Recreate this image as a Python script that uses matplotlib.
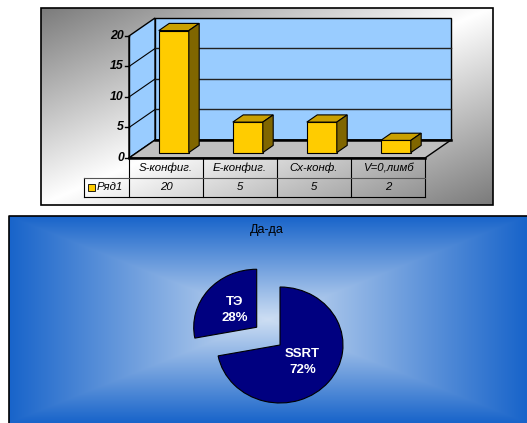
import numpy as np
import matplotlib
matplotlib.use('Agg')
import matplotlib.pyplot as plt
from matplotlib.patches import Polygon, Rectangle

plt.rcParams['font.family'] = ['Liberation Sans', 'DejaVu Sans']

# column chart data
categories = ['S-конфиг.', 'E-конфиг.', 'Cx-конф.', 'V=0,лимб']
series_name = 'Ряд1'
values = [20, 5, 5, 2]
y_ticks = [0, 5, 10, 15, 20]

# pie chart data
pie_labels = ['SSRT', 'ТЭ']
pie_values = [72, 28]
pie_title = 'Да-да'

W, H = 527, 423
fig = plt.figure(figsize=(W / 100, H / 100), dpi=100)


def px_box(x0, y0, x1, y1):
    # pixel box (from top-left) -> figure fraction rect
    return [x0 / W, 1 - y1 / H, (x1 - x0) / W, (y1 - y0) / H]


# ---------- pseudo-3D column chart ----------
ax = fig.add_axes(px_box(41, 8, 493, 205))
sx, sy = 74.0, 6.1          # pixels per category / per unit
x_front, y_zero = 129, 158  # pixel of category edge -0.5 and of value 0
xlim = (-0.5 - (x_front - 41) / sx, -0.5 + (493 - x_front) / sx)
ylim = (-(205 - y_zero) / sy, (y_zero - 8) / sy)

# diagonal grey background
u = np.linspace(0, 1, 452)[None, :]
v = np.linspace(0, 1, 197)[:, None]
g = 1 - 0.52 * np.abs(u + v - 1)
ax.imshow(np.dstack([g, g, g]), extent=(*xlim, *ylim), aspect='auto',
          interpolation='bilinear', zorder=0)
ax.set_xlim(xlim)
ax.set_ylim(ylim)
ax.axis('off')

n = len(categories)
ddx, ddy = 26 / sx, 18 / sy   # depth vector
x0, x1 = -0.5, n - 0.5
top = y_ticks[-1]

ax.add_patch(Polygon([(x0 + ddx, ddy), (x1 + ddx, ddy), (x1 + ddx, top + ddy), (x0 + ddx, top + ddy)],
                     fc='#99ccff', ec='black', lw=1, zorder=1))
ax.add_patch(Polygon([(x0, 0), (x0 + ddx, ddy), (x0 + ddx, top + ddy), (x0, top)],
                     fc='#99ccff', ec='black', lw=1, zorder=1))
ax.add_patch(Polygon([(x0, 0), (x1, 0), (x1 + ddx, ddy), (x0 + ddx, ddy)],
                     fc='#c0c0c0', ec='black', lw=1, zorder=1))

for t in y_ticks[1:-1]:
    ax.plot([x0 + ddx, x1 + ddx], [t + ddy, t + ddy], color='#222222', lw=1, zorder=2)
    ax.plot([x0, x0 + ddx], [t, t + ddy], color='black', lw=0.8, zorder=2)
ax.plot([x0 + ddx, x1 + ddx], [ddy, ddy], color='black', lw=1.8, zorder=2)
ax.plot([x0, x1], [0, 0], color='black', lw=1.8, zorder=4)

# value axis
for t in y_ticks:
    ax.plot([x0 - 4 / sx, x0], [t, t], color='black', lw=1, zorder=4)
    ax.text(x0 - 5 / sx, t, str(t), ha='right', va='center', fontsize=8.8,
            fontweight='bold', fontstyle='italic', zorder=4)
ax.plot([x0, x0], [0, top], color='black', lw=1, zorder=4)

# bars: front faces + top and side faces
bw = 30 / sx
f0, f1 = 0.3, 0.7
bx = np.arange(n) + f0 * ddx
by = f0 * ddy
ax.bar(bx, values, width=bw, bottom=by, color='#ffcc00', edgecolor='black', lw=0.8, zorder=3)
dx, dy = (f1 - f0) * ddx, (f1 - f0) * ddy
for xc, val in zip(bx, values):
    l, r, t = xc - bw / 2, xc + bw / 2, by + val
    ax.add_patch(Polygon([(l, t), (r, t), (r + dx, t + dy), (l + dx, t + dy)],
                         fc='#c9a000', ec='black', lw=0.8, zorder=3))
    ax.add_patch(Polygon([(r, by), (r + dx, by + dy), (r + dx, t + dy), (r, t)],
                         fc='#806600', ec='black', lw=0.8, zorder=3))

# data table under the plot
h1, h2 = 20 / sy, 39 / sy
lab_left = x0 - 45 / sx
tfs = 8.2
for i, (c, val) in enumerate(zip(categories, values)):
    ax.text(i, -h1 / 2, c, ha='center', va='center', fontsize=tfs, fontstyle='italic', zorder=4)
    ax.text(i, -(h1 + h2) / 2, str(val), ha='center', va='center', fontsize=tfs,
            fontstyle='italic', zorder=4)
for i in range(n + 1):
    ax.plot([i - 0.5, i - 0.5], [0, -h2], color='black', lw=0.8, zorder=4)
ax.plot([lab_left, lab_left], [-h1, -h2], color='black', lw=0.8, zorder=4)
ax.plot([lab_left, x1], [-h1, -h1], color='#555555', lw=0.8, zorder=4)
ax.plot([lab_left, x1], [-h2, -h2], color='black', lw=0.8, zorder=4)
ax.add_patch(Rectangle((lab_left + 4 / sx, -(h1 + h2) / 2 - 3.5 / sy), 7 / sx, 7 / sy,
                       fc='#ffcc00', ec='black', lw=0.6, zorder=4))
ax.text(lab_left + 13 / sx, -(h1 + h2) / 2, series_name, ha='left', va='center',
        fontsize=tfs, fontstyle='italic', zorder=4)

ax.add_patch(Rectangle((0, 0), 1, 1, transform=ax.transAxes, fill=False, ec='black',
                       lw=1.2, clip_on=False, zorder=10))

# ---------- exploded pie ----------
ax2 = fig.add_axes(px_box(9, 216, 527, 423))
rx, ry = 63, 58            # pixel radius horizontally / vertically
cx, cy = 280 - 9, 423 - 345
xlim2 = (-cx / rx, (518 - cx) / rx)
ylim2 = (-cy / ry, (207 - cy) / ry)

# rectangular "from centre" blue gradient
u = np.linspace(-1, 1, 518)[None, :]
v = np.linspace(-1, 1, 207)[:, None]
tt = np.maximum(np.abs(u), np.abs(v))
c_in = np.array([205, 222, 243]) / 255
c_out = np.array([24, 100, 202]) / 255
bg = c_in + (c_out - c_in) * tt[..., None]
ax2.imshow(bg, extent=(*xlim2, *ylim2), aspect='auto', interpolation='bilinear', zorder=0)

wedges, texts, autotexts = ax2.pie(
    pie_values, explode=[0, 0.48], startangle=90, counterclock=False,
    colors=['#000080'] * len(pie_values),
    wedgeprops=dict(edgecolor='black', linewidth=0.8),
    autopct='%1.0f%%', pctdistance=0.46,
    textprops=dict(color='white', fontweight='bold', fontsize=9.5))
for name, txt in zip(pie_labels, autotexts):
    txt.set_text(f'{name}\n{txt.get_text()}')
    txt.set_linespacing(1.4)
    txt.set_ha('center')

ax2.set_aspect('auto')
ax2.set_xlim(xlim2)
ax2.set_ylim(ylim2)
ax2.axis('off')
ax2.text(0.498, 0.932, pie_title, transform=ax2.transAxes, ha='center', va='center', fontsize=9)
# panel border: left and top edges only (the panel runs off the right/bottom)
ax2.plot([0, 0, 1], [0, 1, 1], transform=ax2.transAxes, color='black', lw=1.2,
         clip_on=False, zorder=10)

fig.savefig('out.png', dpi=100)
